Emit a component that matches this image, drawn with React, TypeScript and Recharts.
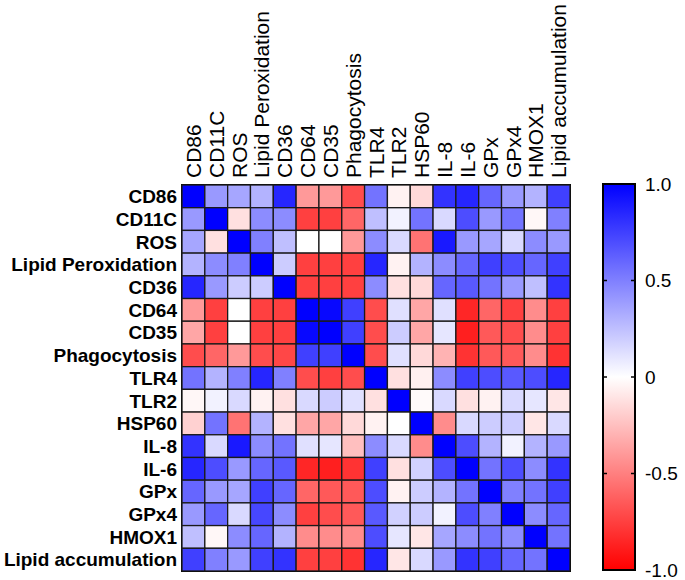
import React from 'react';
import { ScatterChart, Scatter, XAxis, YAxis, ReferenceArea, BarChart, Bar } from 'recharts';

const labels = ['CD86', 'CD11C', 'ROS', 'Lipid Peroxidation', 'CD36', 'CD64', 'CD35', 'Phagocytosis', 'TLR4', 'TLR2', 'HSP60', 'IL-8', 'IL-6', 'GPx', 'GPx4', 'HMOX1', 'Lipid accumulation'];

const rowCD86 = [1, 0.4, 0.35, 0.3, 0.85, -0.4, -0.4, -0.7, 0.55, -0.05, -0.15, 0.8, 0.85, 0.6, 0.4, 0.3, 0.75];
const rowCD11C = [0.4, 1, -0.12, 0.45, 0.45, -0.75, -0.75, -0.6, 0.25, 0.05, 0.55, 0.15, 0.7, 0.4, 0.55, -0.03, 0.5];
const rowROS = [0.35, -0.12, 1, 0.5, 0.25, 0, 0, -0.4, 0.45, 0.15, -0.55, 0.9, 0.4, 0.35, 0.15, 0.45, 0.4];
const rowLipidPerox = [0.3, 0.45, 0.5, 1, 0.2, -0.75, -0.75, -0.75, 0.85, -0.05, 0.3, 0.45, 0.6, 0.75, 0.7, 0.6, 0.75];
const rowCD36 = [0.85, 0.4, 0.2, 0.2, 1, -0.75, -0.75, -0.75, 0.45, -0.12, -0.15, 0.6, 0.65, 0.55, 0.4, 0.25, 0.8];
const rowCD64 = [-0.4, -0.75, 0, -0.75, -0.75, 1, 0.97, 0.75, -0.7, 0.12, -0.35, 0.12, -0.85, -0.6, -0.75, -0.45, -0.75];
const rowCD35 = [-0.35, -0.75, 0, -0.75, -0.75, 0.97, 1, 0.75, -0.7, 0.2, -0.35, 0.1, -0.88, -0.65, -0.7, -0.45, -0.75];
const rowPhago = [-0.7, -0.6, -0.4, -0.7, -0.72, 0.75, 0.75, 1, -0.7, 0.12, -0.15, -0.3, -0.8, -0.65, -0.65, -0.45, -0.8];
const rowTLR4 = [0.55, 0.3, 0.5, 0.85, 0.5, -0.7, -0.75, -0.7, 1, -0.12, -0.06, 0.45, 0.75, 0.7, 0.65, 0.7, 0.85];
const rowTLR2 = [-0.03, 0.05, 0.15, -0.05, -0.12, 0.15, 0.2, 0.12, -0.12, 1, -0.02, 0.15, -0.12, -0.05, 0.15, 0.1, -0.1];
const rowHSP60 = [-0.18, 0.55, -0.55, 0.3, -0.12, -0.35, -0.35, -0.15, -0.05, 0, 1, -0.45, 0.15, 0.2, 0.2, -0.1, 0.15];
const rowIL8 = [0.8, 0.15, 0.9, 0.45, 0.55, 0.12, 0.1, -0.25, 0.45, 0.15, -0.45, 1, 0.7, 0.3, 0.05, 0.3, 0.4];
const rowIL6 = [0.85, 0.7, 0.4, 0.6, 0.65, -0.85, -0.88, -0.8, 0.75, -0.12, 0.18, 0.7, 1, 0.55, 0.7, 0.45, 0.8];
const rowGPx = [0.6, 0.4, 0.35, 0.75, 0.6, -0.6, -0.65, -0.65, 0.7, -0.05, 0.2, 0.3, 0.55, 1, 0.5, 0.55, 0.75];
const rowGPx4 = [0.4, 0.6, 0.15, 0.72, 0.45, -0.75, -0.7, -0.65, 0.65, 0.18, 0.2, 0.05, 0.7, 0.5, 1, 0.45, 0.6];
const rowHMOX1 = [0.25, -0.03, 0.45, 0.6, 0.3, -0.45, -0.45, -0.45, 0.7, 0.1, -0.1, 0.35, 0.45, 0.55, 0.45, 1, 0.55];
const rowLipidAcc = [0.75, 0.5, 0.4, 0.75, 0.8, -0.75, -0.75, -0.8, 0.85, -0.1, 0.15, 0.4, 0.8, 0.75, 0.6, 0.55, 1];

const rows = [rowCD86, rowCD11C, rowROS, rowLipidPerox, rowCD36, rowCD64, rowCD35, rowPhago, rowTLR4, rowTLR2, rowHSP60, rowIL8, rowIL6, rowGPx, rowGPx4, rowHMOX1, rowLipidAcc];

const colorbarTicks = [-1, -0.5, 0, 0.5, 1];
const colorbarTickLabels = ['-1.0', '-0.5', '0', '0.5', '1.0'];

const cells = rows.flatMap((r, i) => r.map((v, j) => ({ x: j, y: i, v })));
const idx = labels.map((_, i) => i);

const W = 685;
const H = 580;
const M = { top: 0, right: 115, bottom: 9, left: 0 };
const XAXIS_H = 185;
const YAXIS_W = 182;
const N = labels.length;
const cellW = (W - M.left - M.right - YAXIS_W) / N;
const cellH = (H - M.top - M.bottom - XAXIS_H) / N;

function colorFor(v: number) {
  const c = Math.max(-1, Math.min(1, v));
  if (c >= 0) {
    const k = Math.round(255 * (1 - c));
    return `rgb(${k},${k},255)`;
  }
  const k = Math.round(255 * (1 + c));
  return `rgb(255,${k},${k})`;
}

const CellShape = (props: any) => {
  const { cx, cy, payload } = props;
  return (
    <rect
      x={cx - cellW / 2}
      y={cy - cellH / 2}
      width={cellW}
      height={cellH}
      fill={colorFor(payload.v)}
      stroke="#1a1a1a"
      strokeWidth={1.3}
    />
  );
};

const TopTick = (props: any) => {
  const { x, y, payload } = props;
  return (
    <text
      transform={`translate(${x},${y}) rotate(-90)`}
      textAnchor="start"
      dy="0.36em"
      fontFamily="'Liberation Sans', Arial, sans-serif"
      fontSize={21}
      fill="#000"
    >
      {labels[payload.value]}
    </text>
  );
};

const LeftTick = (props: any) => {
  const { x, y, payload } = props;
  return (
    <text
      x={x}
      y={y}
      textAnchor="end"
      dy="0.36em"
      fontFamily="'Liberation Sans', Arial, sans-serif"
      fontWeight="bold"
      fontSize={19}
      fill="#000"
    >
      {labels[payload.value]}
    </text>
  );
};

const colorbarData = [{ name: 'scale', range: [colorbarTicks[0], colorbarTicks[colorbarTicks.length - 1]] }];

const ColorbarShape = (props: any) => {
  const { x, y, width, height } = props;
  const marks = [0.5, 0, -0.5];
  return (
    <g>
      <defs>
        <linearGradient id="cbGrad" x1="0" y1="0" x2="0" y2="1">
          <stop offset="0%" stopColor="rgb(0,0,255)" />
          <stop offset="50%" stopColor="rgb(255,255,255)" />
          <stop offset="100%" stopColor="rgb(255,0,0)" />
        </linearGradient>
      </defs>
      <rect x={x} y={y} width={width} height={height} fill="url(#cbGrad)" stroke="#000" strokeWidth={2} />
      {marks.map((m) => {
        const yy = y + height * (1 - (m + 1) / 2);
        return (
          <g key={m}>
            <line x1={x} x2={x + 4} y1={yy} y2={yy} stroke="#000" strokeWidth={1.5} />
            <line x1={x + width - 4} x2={x + width} y1={yy} y2={yy} stroke="#000" strokeWidth={1.5} />
          </g>
        );
      })}
    </g>
  );
};

export default function App() {
  return (
    <div style={{ position: 'absolute', left: 0, top: 0, width: W, height: H, background: '#fff' }}>
      <div style={{ position: 'absolute', left: 0, top: 0 }}>
        <ScatterChart width={W} height={H} margin={M}>
          <XAxis
            type="number"
            dataKey="x"
            orientation="top"
            domain={[-0.5, N - 0.5]}
            ticks={idx}
            interval={0}
            height={XAXIS_H}
            axisLine={false}
            tickLine={false}
            tickSize={0}
            tickMargin={7}
            tick={<TopTick />}
          />
          <YAxis
            type="number"
            dataKey="y"
            reversed
            domain={[-0.5, N - 0.5]}
            ticks={idx}
            interval={0}
            width={YAXIS_W}
            axisLine={false}
            tickLine={false}
            tickSize={0}
            tickMargin={5}
            tick={<LeftTick />}
          />
          <Scatter data={cells} shape={<CellShape />} isAnimationActive={false} />
          <ReferenceArea x1={-0.5} x2={N - 0.5} y1={-0.5} y2={N - 0.5} fill="none" stroke="#000" strokeWidth={2} ifOverflow="visible" />
        </ScatterChart>
      </div>
      <div style={{ position: 'absolute', left: 590, top: 0 }}>
        <BarChart width={95} height={H} data={colorbarData} margin={{ top: 184, right: 0, bottom: 10, left: 13 }} barCategoryGap={0}>
          <XAxis dataKey="name" hide />
          <YAxis
            orientation="right"
            type="number"
            domain={[-1, 1]}
            ticks={colorbarTicks}
            interval={0}
            width={50}
            axisLine={false}
            tickLine={false}
            tickSize={0}
            tickMargin={10}
            tickFormatter={(v: number) => colorbarTickLabels[colorbarTicks.indexOf(v)]}
            tick={{ fontFamily: "'Liberation Sans', Arial, sans-serif", fontSize: 19, fill: '#000' }}
          />
          <Bar dataKey="range" shape={<ColorbarShape />} isAnimationActive={false} />
        </BarChart>
      </div>
    </div>
  );
}
